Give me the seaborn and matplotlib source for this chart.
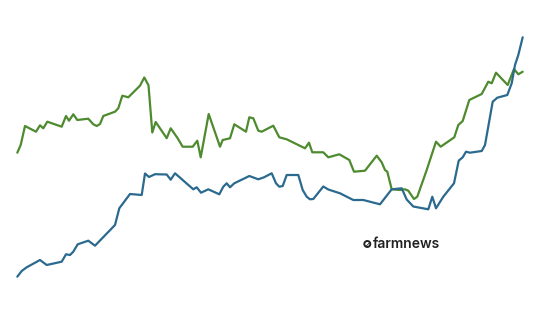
import matplotlib
matplotlib.use("Agg")
import matplotlib.pyplot as plt
import seaborn as sns
import pandas as pd
from matplotlib.patches import Circle

# Green series (x position, level; larger = lower on chart)
green_x = [17.3, 20.7, 25, 36, 40, 43.3, 47.3, 61.7, 66, 69, 73.3, 77.3, 88.3, 93.3, 96.7,
           100, 103.3, 115, 118.3, 122.3, 128.3, 140, 144.3, 148.5, 152.3, 155.7, 166.7,
           170.7, 177.3, 182.7, 192.7, 197.3, 200.7, 208.7, 220, 222.7, 230, 234.3, 246,
           249.3, 253.3, 258.3, 261.7, 273.3, 279.3, 286.7, 305, 309, 312.3, 323.3, 328.3,
           339.3, 349.3, 354, 365, 376.7, 381.7, 385, 387.3, 391.7, 400, 405, 408.3, 414,
           417.3, 426.7, 436, 440.7, 454.3, 458.3, 462.7, 469.3, 481.7, 488.3, 491.7, 496,
           507.7, 514, 518.3, 522.7]
green_y = [152.7, 145, 126, 131.7, 125.3, 128.3, 121.7, 126.7, 116, 120.7, 114.3, 120,
           118.7, 124.3, 126, 124, 116, 111.7, 108.3, 95.7, 97.3, 85.7, 77.5, 85.3, 132.5,
           122, 138.2, 128.3, 137.7, 146.7, 146.7, 140.7, 157.3, 114, 146.7, 140, 138.3,
           124.3, 131.7, 117.3, 118.3, 130.7, 131.7, 125.7, 137.3, 139.3, 148.3, 142.7,
           152.3, 152.3, 157.3, 154.3, 160, 171.7, 170.7, 155.7, 162.3, 170, 171.7, 189.3,
           190, 189.3, 190.7, 199, 196.7, 170, 141.7, 146.7, 137.3, 125, 121, 100, 94,
           81.7, 83.3, 72.7, 85, 69, 74.3, 71.7]

# Blue series
blue_x = [17.3, 21.7, 26.7, 40, 46.7, 61.7, 66, 70, 73.3, 77.7, 88.3, 95, 115, 119.3, 130,
          141.7, 145, 149, 155, 166.7, 170.7, 175, 193.3, 196.7, 201, 208.3, 219.3, 223.3,
          226.7, 230, 234.3, 249.3, 258.3, 264, 271.7, 276, 279.3, 282.7, 286.7, 298.3,
          302.7, 306.7, 310, 313.3, 323.3, 328.3, 340, 353.3, 363.3, 380, 391.7, 401.7,
          406.7, 413.3, 428.3, 432.3, 436, 443.3, 454, 458.7, 462.7, 466, 470, 481.7, 485,
          492.7, 497.3, 507.3, 511.7, 515, 518.3, 522.7]
blue_y = [276.7, 271, 267.3, 260, 265, 261.7, 254.3, 255, 251.7, 244.3, 240.7, 245.7, 225,
          208.3, 194, 195, 173.5, 177, 174.2, 174.5, 179.7, 173.3, 189.3, 187.3, 192.7,
          189.3, 194.3, 186.7, 183.3, 187.3, 183.3, 176, 179.3, 177.3, 173.3, 183.3, 186.7,
          186, 175, 175, 190, 196.7, 199.3, 199, 186.5, 189.5, 193.3, 200, 200, 204.3,
          189.3, 188.3, 199.5, 206.5, 209.3, 196.7, 208.3, 196.7, 183.3, 160.7, 157.3,
          151.7, 152.7, 151, 145, 101.7, 97.7, 95, 83.3, 65, 55, 37.3]

series_names = ["green", "blue"]
colors = {"green": "#4e8a2e", "blue": "#2b6a8e"}

df = pd.concat([
    pd.DataFrame({"x": green_x, "y": green_y, "series": "green"}),
    pd.DataFrame({"x": blue_x, "y": blue_y, "series": "blue"}),
])

sns.set_theme(style="white")
fig = plt.figure(figsize=(5.43, 3.13), dpi=100)
ax = fig.add_axes([0, 0, 1, 1])
sns.lineplot(data=df, x="x", y="y", hue="series", palette=colors, sort=False,
             estimator=None, linewidth=1.6, legend=False, ax=ax)
ax.set_xlim(0, 543)
ax.set_ylim(313, 0)
ax.axis("off")

# logo
ax.add_patch(Circle((367.3, 244), 3.0, fill=False, lw=1.4, ec="#222222"))
ax.plot([366.3, 369.5], [246.0, 242.8], color="#222222", lw=0.6)
ax.text(372.5, 244.5, "farmnews", fontsize=10, fontweight=600, color="#222222",
        family=["Inter", "DejaVu Sans"], va="center", ha="left")

fig.savefig("out.png", dpi=100, facecolor="white")
